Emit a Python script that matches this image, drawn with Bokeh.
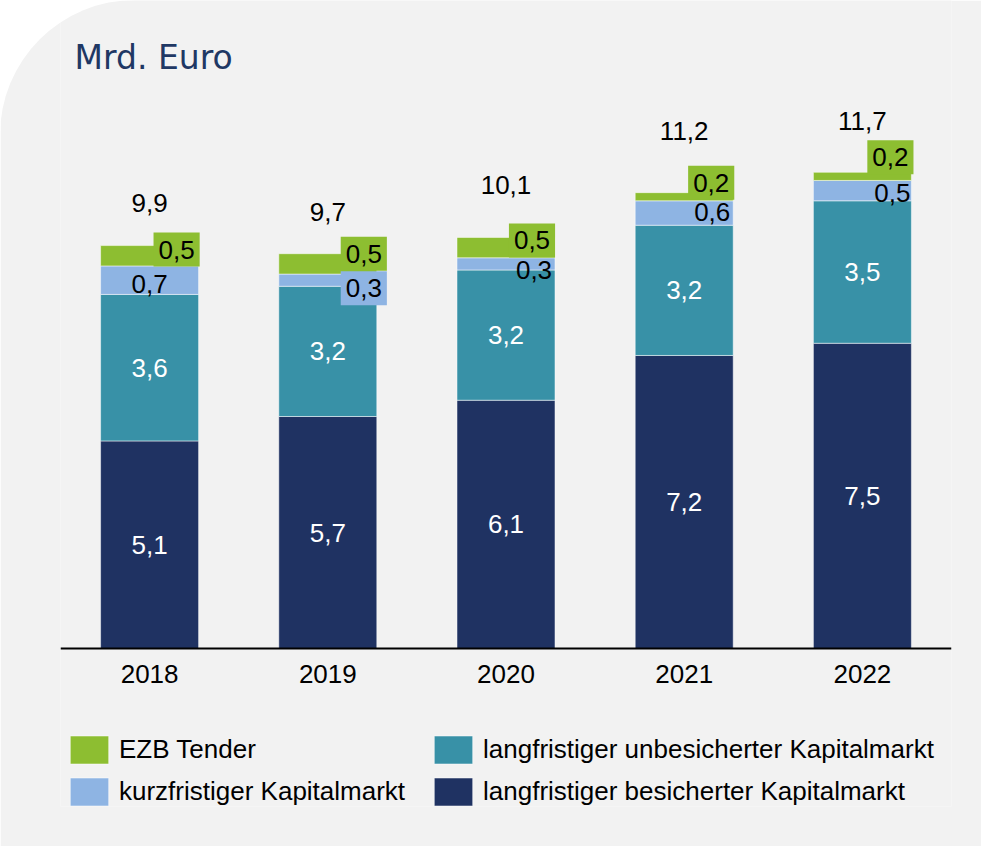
from bokeh.plotting import figure
from bokeh.models import ColumnDataSource, Range1d, FactorRange, Legend, LegendItem, Label
from bokeh.embed import file_html
from bokeh.resources import INLINE
from bokeh.core.properties import value

# ---------------- data ----------------
years = ["2018", "2019", "2020", "2021", "2022"]
besichert = [5.1, 5.7, 6.1, 7.2, 7.5]      # langfristiger besicherter Kapitalmarkt
unbesichert = [3.6, 3.2, 3.2, 3.2, 3.5]    # langfristiger unbesicherter Kapitalmarkt
kurzfristig = [0.7, 0.3, 0.3, 0.6, 0.5]    # kurzfristiger Kapitalmarkt
ezb = [0.5, 0.5, 0.5, 0.2, 0.2]            # EZB Tender
totals = [9.9, 9.7, 10.1, 11.2, 11.7]

names = ["langfristiger besicherter Kapitalmarkt",
         "langfristiger unbesicherter Kapitalmarkt",
         "kurzfristiger Kapitalmarkt",
         "EZB Tender"]

# ---------------- styles ----------------
C_NAVY = "#1F3262"
C_TEAL = "#3891A7"
C_LIGHT = "#8EB4E3"
C_GREEN = "#8DBE31"
BG = "#F2F2F2"
FONT = "Liberation Sans"
LBL_SIZE = "26px"

# label pixel offsets (screen px, +down)
green_dx = [27, 36, 26, 27, 28]
green_dy = [4, 0, 3, -10, -15]
light_dx = [0, 36, 28, 28, 30]
light_dy = [4, 8, 6, -1, 2]
light_bg_alpha = [0, 1, 0, 0, 0]
total_dy = [-43, -42, -52, -62, -51]


def fmt(v):
    return f"{v:.1f}".replace(".", ",")


PX_PER_UNIT = 40.7
FRAME_H = 806
BASE = 648  # pixel row of the zero line from the top of the frame
p = figure(frame_width=891, frame_height=FRAME_H, output_backend="svg",
           toolbar_location=None,
           x_range=FactorRange(*years),
           y_range=Range1d(-(FRAME_H - BASE) / PX_PER_UNIT, BASE / PX_PER_UNIT),
           y_axis_location=None,
           min_border_left=60, min_border_right=30, min_border_top=0,
           min_border_bottom=40)
p.background_fill_color = BG
p.border_fill_color = BG
p.outline_line_color = None
p.xgrid.grid_line_color = None
p.ygrid.grid_line_color = None
p.styles = {"border-top-left-radius": "135px", "overflow": "hidden"}

src = ColumnDataSource(dict(year=years, b=besichert, u=unbesichert,
                            k=kurzfristig, e=ezb))
rs = p.vbar_stack(["b", "u", "k", "e"], x="year", width=0.55, source=src,
                  fill_color=[C_NAVY, C_TEAL, C_LIGHT, C_GREEN],
                  line_color="#FFFFFF", line_alpha=0.5, line_width=1)

# ---- white labels inside the two large segments
big_y, big_t = [], []
big_x = []
for i, yr in enumerate(years):
    big_x += [yr, yr]
    big_y += [besichert[i] / 2, besichert[i] + unbesichert[i] / 2]
    big_t += [fmt(besichert[i]), fmt(unbesichert[i])]
p.text(x="x", y="y", text="t",
       source=ColumnDataSource(dict(x=big_x, y=big_y, t=big_t)),
       text_color="white", text_align="center", text_baseline="middle",
       text_font=value(FONT), text_font_size=LBL_SIZE)

# ---- light blue segment labels
light_y = [besichert[i] + unbesichert[i] + kurzfristig[i] / 2 for i in range(5)]
p.text(x="x", y="y", text="t", x_offset="dx", y_offset="dy",
       background_fill_alpha="ba",
       source=ColumnDataSource(dict(x=years, y=light_y,
                                    t=[fmt(v) for v in kurzfristig],
                                    dx=light_dx, dy=light_dy, ba=light_bg_alpha)),
       background_fill_color=C_LIGHT, padding=dict(x=5, y=8),
       text_color="black", text_align="center", text_baseline="middle",
       text_font=value(FONT), text_font_size=LBL_SIZE)

# ---- green segment labels (boxed)
p.text(x="x", y="y", text="t", x_offset="dx", y_offset="dy",
       source=ColumnDataSource(dict(x=years, y=totals,
                                    t=[fmt(v) for v in ezb],
                                    dx=green_dx, dy=green_dy)),
       background_fill_color=C_GREEN, padding=dict(x=5, y=8),
       text_color="black", text_align="center", text_baseline="middle",
       text_font=value(FONT), text_font_size=LBL_SIZE)

# ---- totals
p.text(x="x", y="y", text="t", y_offset="dy",
       source=ColumnDataSource(dict(x=years, y=totals,
                                    t=[fmt(v) for v in totals], dy=total_dy)),
       text_color="black", text_align="center", text_baseline="middle",
       text_font=value(FONT), text_font_size=LBL_SIZE)

# ---- axis (drawn at the zero line)
ax = p.xaxis[0]
ax.fixed_location = 0
ax.axis_line_color = "black"
ax.axis_line_width = 2
ax.major_tick_line_color = None
ax.minor_tick_line_color = None
ax.major_label_text_font = FONT
ax.major_label_text_font_size = "26px"
ax.major_label_text_color = "black"
ax.major_label_standoff = 10

# ---- title
p.add_layout(Label(x=14, y=FRAME_H - 57, x_units="screen", y_units="screen",
                   text="Mrd. Euro", text_font="DejaVu Sans",
                   text_font_size="33px", text_color="#1F3864",
                   text_baseline="alphabetic"))

# ---- legend
items = [LegendItem(label=names[3], renderers=[rs[3]]),
         LegendItem(label=names[2], renderers=[rs[2]]),
         LegendItem(label=names[1], renderers=[rs[1]]),
         LegendItem(label=names[0], renderers=[rs[0]])]
legend = Legend(items=items, location=(5, -3), orientation="vertical", nrows=2,
                glyph_width=48, glyph_height=35, label_standoff=6, spacing=7,
                padding=0, margin=0, border_line_alpha=0, background_fill_alpha=0,
                label_text_font=FONT, label_text_font_size="26px",
                label_text_color="black",
                label_width=303, label_height=35)
p.add_layout(legend, "center")

open("out.html", "w").write(file_html(p, INLINE))
